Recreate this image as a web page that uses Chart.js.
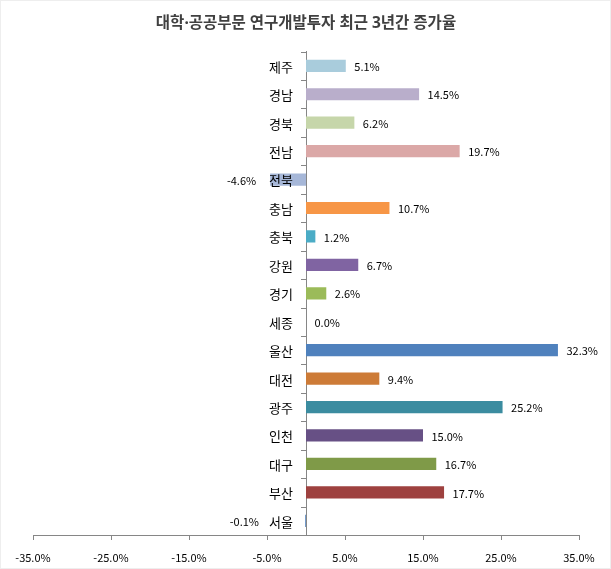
<!DOCTYPE html>
<html>
<head>
<meta charset="utf-8">
<script src="https://cdn.jsdelivr.net/npm/chart.js@4/dist/chart.umd.min.js"></script>
<style>
  html, body { margin: 0; padding: 0; background: #eeeeee; }
  #wrap { position: absolute; left: 1px; top: 1px; width: 609px; height: 567px; background: #ffffff; }
</style>
</head>
<body>
<div id="wrap"><canvas id="chart" width="609" height="567"></canvas></div>
<script>
// 지역별 증가율 (%)
const regions = ['제주', '경남', '경북', '전남', '전북', '충남', '충북', '강원', '경기', '세종', '울산', '대전', '광주', '인천', '대구', '부산', '서울'];
const growth = [5.1, 14.5, 6.2, 19.7, -4.6, 10.7, 1.2, 6.7, 2.6, 0.0, 32.3, 9.4, 25.2, 15.0, 16.7, 17.7, -0.1];
const barColors = ['#a9ccdc', '#b9aecb', '#c6d6aa', '#dba8a7', '#a6b7d8', '#f79646', '#4bacc6', '#8064a2', '#9bbb59', '#c0504d',
                   '#4f81bd', '#cd7b37', '#3b8ca0', '#675085', '#7f9a48', '#9e413f', '#4f81bd'];
const xTicks = [-35, -25, -15, -5, 5, 15, 25, 35];

const FONT = '"Noto Sans CJK KR", "Noto Sans", sans-serif';
const AXIS_GRAY = '#868686';

// 지역명, 눈금, 막대 값 (막대 위에 그림)
const overlayLabels = {
    id: 'overlayLabels',
    afterDatasetsDraw(chart) {
        const ctx = chart.ctx;
        const meta = chart.getDatasetMeta(0);
        const xs = chart.scales.x, ys = chart.scales.y;
        const zeroX = xs.getPixelForValue(0);
        const step = ys.getPixelForValue(1) - ys.getPixelForValue(0);
        ctx.save();

        // 세로축 눈금 (항목 경계)
        ctx.strokeStyle = AXIS_GRAY;
        ctx.lineWidth = 1;
        ctx.beginPath();
        for (let i = 0; i <= regions.length; i++) {
            const y = Math.round(ys.getPixelForValue(i) - step / 2) + 0.5;
            ctx.moveTo(zeroX - 5, y);
            ctx.lineTo(zeroX, y);
        }
        ctx.stroke();

        // 지역명
        ctx.font = '13px ' + FONT;
        ctx.fillStyle = '#000000';
        ctx.textBaseline = 'middle';
        ctx.textAlign = 'right';
        regions.forEach((r, i) => {
            ctx.fillText(r, zeroX - 13, ys.getPixelForValue(i) + 1);
        });

        // 값
        ctx.font = '11px ' + FONT;
        meta.data.forEach((bar, i) => {
            const v = growth[i];
            const txt = v.toFixed(1) + '%';
            if (v >= 0) {
                ctx.textAlign = 'left';
                ctx.fillText(txt, bar.x + 8.5, bar.y + 1);
            } else {
                ctx.textAlign = 'right';
                ctx.fillText(txt, Math.min(bar.x - 14, zeroX - 47), bar.y + 1);
            }
        });
        ctx.restore();
    }
};

new Chart(document.getElementById('chart'), {
    type: 'bar',
    data: {
        labels: regions,
        datasets: [{
            data: growth,
            backgroundColor: barColors,
            borderWidth: 0,
            barPercentage: 0.43,
            categoryPercentage: 1
        }]
    },
    options: {
        indexAxis: 'y',
        responsive: false,
        animation: false,
        layout: { padding: { left: 32, right: 31, top: 0, bottom: 4 } },
        plugins: {
            legend: { display: false },
            tooltip: { enabled: false },
            title: {
                display: true,
                text: '대학·공공부문 연구개발투자 최근 3년간 증가율',
                color: '#404040',
                font: { family: '"Noto Sans", "Noto Sans CJK KR", sans-serif', size: 15.5, weight: 'bold' },
                padding: { top: 13, bottom: 19 }
            }
        },
        scales: {
            x: {
                type: 'linear',
                min: -35,
                max: 35,
                afterBuildTicks: axis => { axis.ticks = xTicks.map(v => ({ value: v })); },
                afterFit: axis => { axis.height = 29; },
                grid: { drawOnChartArea: false, tickLength: 5, color: AXIS_GRAY },
                border: { color: AXIS_GRAY },
                ticks: {
                    padding: 11,
                    maxRotation: 0,
                    autoSkip: false,
                    color: '#000000',
                    font: { family: FONT, size: 11 },
                    callback: v => v.toFixed(1) + '%'
                }
            },
            y: {
                position: { x: 0 },
                grid: { display: false },
                border: { display: true, color: AXIS_GRAY },
                ticks: { display: false }
            }
        }
    },
    plugins: [overlayLabels]
});
</script>
</body>
</html>
